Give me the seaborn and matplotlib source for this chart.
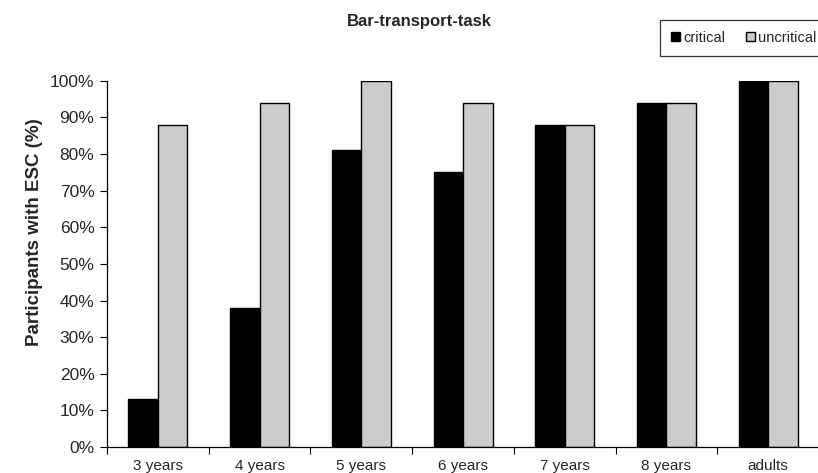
import matplotlib
matplotlib.use("Agg")
import matplotlib.pyplot as plt
from matplotlib.ticker import PercentFormatter, FixedLocator
from matplotlib.patches import Patch
import pandas as pd
import seaborn as sns

groups = ["3 years", "4 years", "5 years", "6 years", "7 years", "8 years", "adults"]
critical = [13, 38, 81, 75, 88, 94, 100]
uncritical = [88, 94, 100, 94, 88, 94, 100]
series = ["critical", "uncritical"]
colors = ["#000000", "#cccccc"]

df = pd.DataFrame({
    "group": groups * 2,
    "value": critical + uncritical,
    "condition": ["critical"] * len(groups) + ["uncritical"] * len(groups),
})

sns.set_style("white")
plt.rcParams["font.family"] = ["Liberation Sans", "DejaVu Sans"]

fig = plt.figure(figsize=(8.18, 4.73), dpi=100)
ax = fig.add_axes([0.1308, 0.055, 0.8705, 0.774])

sns.barplot(data=df, x="group", y="value", hue="condition", order=groups,
            hue_order=series, palette=colors, width=0.58, ax=ax,
            edgecolor="black", linewidth=1.0, legend=False)

ax.set_xlim(-0.5, len(groups) - 0.5)
ax.set_ylim(0, 100)
ax.set_yticks(range(0, 101, 10))
ax.yaxis.set_major_formatter(PercentFormatter(decimals=0))
ax.xaxis.set_minor_locator(FixedLocator([i - 0.5 for i in range(len(groups) + 1)]))
ax.tick_params(axis="x", which="major", length=0, labelsize=11, pad=9)
ax.tick_params(axis="x", which="minor", length=5, width=0.8, direction="out", color="black", bottom=True)
ax.tick_params(axis="y", length=5, width=0.8, direction="out", color="black", left=True, labelsize=12.5, pad=4)

for s in ["top", "right"]:
    ax.spines[s].set_visible(False)
for s in ["left", "bottom"]:
    ax.spines[s].set_color("black")
    ax.spines[s].set_linewidth(0.9)

ax.set_xlabel("")
ax.set_ylabel("Participants with ESC (%)", fontsize=13.5, fontweight="bold")
ax.yaxis.set_label_coords(-0.09, 0.587)
fig.text(0.513, 0.955, "Bar-transport-task", ha="center", va="center",
         fontsize=12, fontweight="bold")

handles = [Patch(facecolor=c, edgecolor="black", linewidth=1.0, label=s)
           for c, s in zip(colors, series)]
leg = fig.legend(handles=handles, loc="upper left", bbox_to_anchor=(0.807, 0.958),
                 borderaxespad=0, ncol=2, frameon=True, fancybox=False, edgecolor="black",
                 fontsize=10.5, handlelength=0.6, handleheight=0.6,
                 handletextpad=0.25, columnspacing=1.4, borderpad=0.75)
leg.get_frame().set_linewidth(0.9)

fig.savefig("out.png", dpi=100)
